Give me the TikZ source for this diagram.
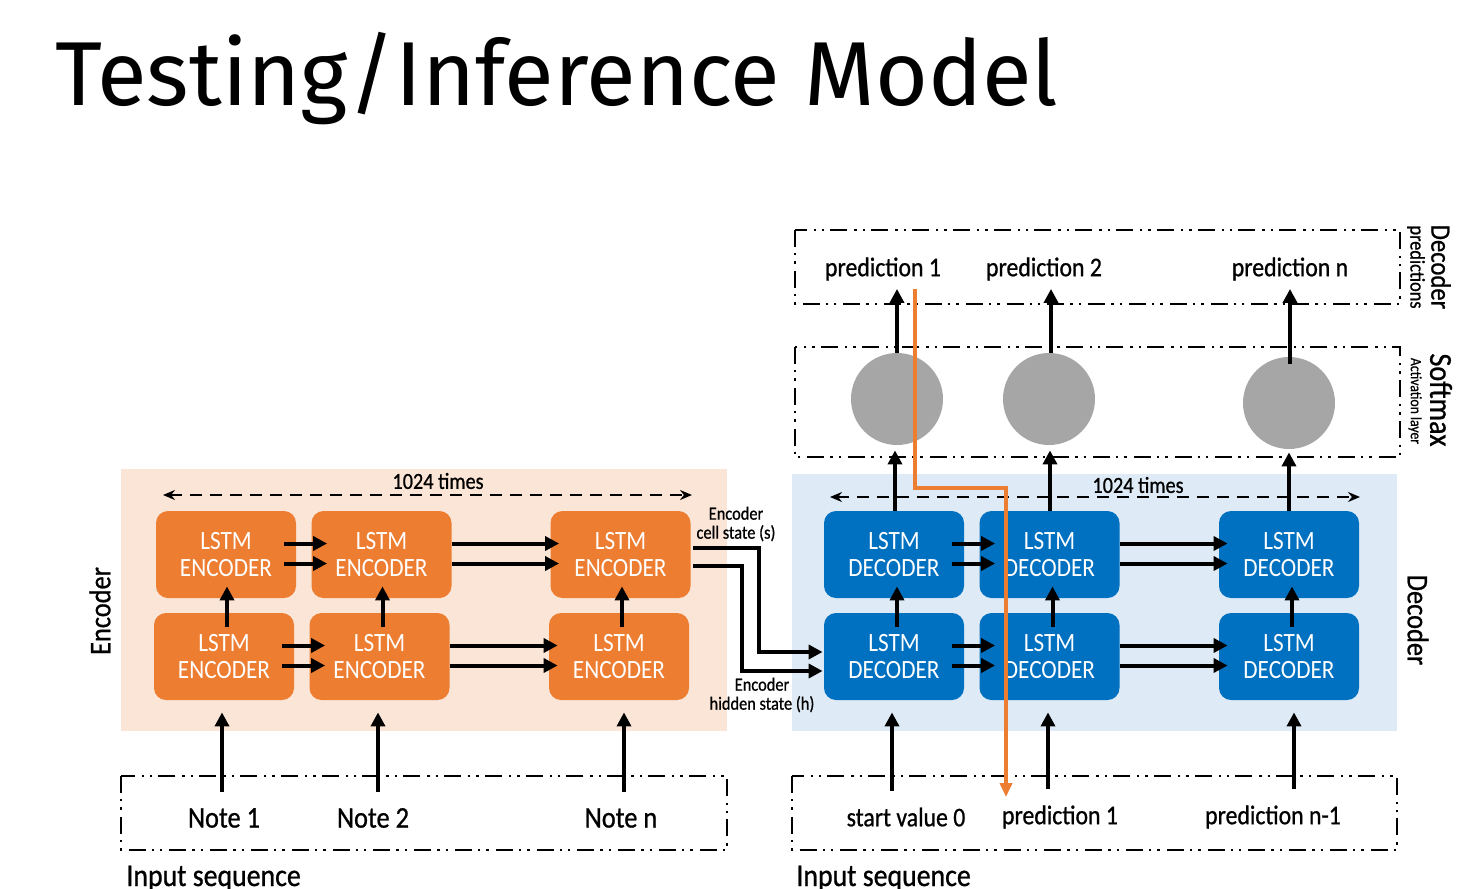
\documentclass[tikz,border=0pt]{standalone}
\usepackage{fontspec}
\setmainfont{Carlito}[FakeStretch=0.88]
\newfontfamily\lblfont{Carlito}[FakeStretch=0.88, FakeBold=0.8]
\newfontfamily\titlefont{Fira Sans}
\usetikzlibrary{arrows.meta,calc}

\definecolor{encfill}{HTML}{ED7D31}
\definecolor{encbg}{HTML}{FBE5D6}
\definecolor{decfill}{HTML}{0070C0}
\definecolor{decbg}{HTML}{DEEBF7}
\definecolor{smgray}{HTML}{A6A6A6}

\tikzset{
  lstmbox/.style={rounded corners=6pt, minimum width=70pt, minimum height=43.5pt,
    inner sep=0pt, text=white, align=center,
    font=\fontsize{13.2}{13.5}\selectfont},
  enc/.style={lstmbox, fill=encfill},
  dec/.style={lstmbox, fill=decfill},
  smnode/.style={circle, fill=smgray, minimum size=46pt, inner sep=0pt},
  arr/.style={line width=2pt, -{Triangle[length=7pt,width=7pt]}},
  oarr/.style={line width=2pt, draw=encfill, -{Triangle[length=7pt,width=6pt]}},
  span/.style={line width=0.8pt, dash pattern=on 6pt off 4pt,
    {Stealth[length=6pt,width=5pt]}-{Stealth[length=6pt,width=5pt]}},
  frame/.style={line width=1pt,
    dash pattern=on 8.5pt off 3pt on 1.2pt off 3pt on 1.2pt off 3.5pt},
  seqtext/.style={font=\lblfont\fontsize{15}{15}\selectfont, inner sep=4pt},
  captext/.style={font=\lblfont\fontsize{15.8}{15.8}\selectfont, inner sep=0pt, anchor=base west},
  predtext/.style={font=\lblfont\fontsize{13.5}{13.5}\selectfont, inner sep=4pt},
  spantext/.style={font=\lblfont\fontsize{11.5}{11.5}\selectfont, inner sep=0pt},
  statetext/.style={font=\lblfont\fontsize{9.3}{9.5}\selectfont, align=center, inner sep=0pt},
}

\begin{document}
\begin{tikzpicture}[x=0.5pt, y=-0.5pt]
\useasboundingbox (0,0) rectangle (1479,889);

% title
\node[anchor=base west, inner sep=0pt, font=\titlefont\fontsize{45.4}{46}\selectfont]
  (title) at (55,105) {Testing/Inference Model};

% shaded regions
\fill[encbg] (121,469) rectangle (727,731);
\fill[decbg] (792,474) rectangle (1397,731);

% dash-dot frames
\draw[frame] (795,230) rectangle (1400,304);
\draw[frame] (795,347) rectangle (1400,457);
\draw[frame] (121,776) rectangle (727,850);
\draw[frame] (792,776) rectangle (1397,850);

% encoder cells
\node[enc] (e11) at (226,554.5) {LSTM\\ENCODER};
\node[enc] (e12) at (381.5,554.5) {LSTM\\ENCODER};
\node[enc] (e13) at (620.5,554.5) {LSTM\\ENCODER};
\node[enc] (e21) at (224,656.5) {LSTM\\ENCODER};
\node[enc] (e22) at (379.5,656.5) {LSTM\\ENCODER};
\node[enc] (e23) at (619,656.5) {LSTM\\ENCODER};

% decoder cells
\node[dec] (d11) at (894,554.5) {LSTM\\DECODER};
\node[dec] (d12) at (1049.5,554.5) {LSTM\\DECODER};
\node[dec] (d13) at (1289,554.5) {LSTM\\DECODER};
\node[dec] (d21) at (894,656.5) {LSTM\\DECODER};
\node[dec] (d22) at (1049.5,656.5) {LSTM\\DECODER};
\node[dec] (d23) at (1289,656.5) {LSTM\\DECODER};

% softmax units
\node[smnode] (s1) at (897,399) {};
\node[smnode] (s2) at (1049,399) {};
\node[smnode] (s3) at (1289,403) {};

% predictions
\node[predtext] (p1) at (883,269) {prediction 1};
\node[predtext] (p2) at (1044,269) {prediction 2};
\node[predtext] (p3) at (1290,269) {prediction n};

% input sequences
\node[seqtext] (n1) at (224,818) {Note 1};
\node[seqtext] (n2) at (373,818) {Note 2};
\node[seqtext] (n3) at (621,818) {Note n};
\node[predtext] (sv) at (906,817) {start value 0};
\node[predtext] (q1) at (1060,817) {prediction 1};
\node[predtext] (qn) at (1273,817) {prediction n-1};
\node[captext] (in1) at (126,886) {Input sequence};
\node[captext] (in2) at (796,886) {Input sequence};

% side labels
\node[rotate=90, font=\lblfont\fontsize{15}{15}\selectfont] (encl) at (100,611) {Encoder};
\node[rotate=-90, font=\lblfont\fontsize{15}{15}\selectfont] (decl) at (1418,620) {Decoder};
\node[rotate=-90, font=\lblfont\fontsize{14}{14}\selectfont] (dpl) at (1441,267) {Decoder};
\node[rotate=-90, font=\lblfont\fontsize{10.4}{10.4}\selectfont] (dpl2) at (1416,267) {predictions};
\node[rotate=-90, font=\lblfont\fontsize{16}{16}\selectfont] (sml) at (1441,400) {Softmax};
\node[rotate=-90, font=\lblfont\fontsize{7.8}{7.8}\selectfont] (sml2) at (1415,401) {Activation layer};

% repetition spans
\node[spantext] (t1) at (438,481) {1024 times};
\node[spantext] (t2) at (1138,485) {1024 times};
\coordinate (ea) at (163,495);
\coordinate (eb) at (692,495);
\coordinate (da) at (830,497);
\coordinate (db) at (1360,497);
\draw[span] (ea) -- (eb);
\draw[span] (da) -- (db);

% horizontal state arrows (two per link)
\foreach \a/\b/\s/\t in {e11/e12/-12/16, e12/e13/0/9, e21/e22/-12/16, e22/e23/0/9,
                          d11/d12/-12/16, d12/d13/0/9, d21/d22/-12/16, d22/d23/0/9}{
  \draw[arr] ($(\a.east)+(\s,-11)$) -- ($(\b.west)+(\t,-11)$);
  \draw[arr] ($(\a.east)+(\s,9)$) -- ($(\b.west)+(\t,9)$);
}

% vertical arrows between layers
\foreach \a/\b in {e21/e11, e22/e12, e23/e13, d21/d11, d22/d12, d23/d13}{
  \draw[arr] ($(\a.north)+(3,14)$) -- ($(\a.north |- \b.south)+(3,-12)$);
}

% inputs into the first layer
\draw[arr] ($(n1.north -| e21.south)+(-2,-8)$) -- ($(e21.south)+(-2,12)$);
\draw[arr] ($(n2.north -| e22.south)+(-1.5,-8)$) -- ($(e22.south)+(-1.5,12)$);
\draw[arr] ($(n3.north -| e23.south)+(5,-8)$) -- ($(e23.south)+(5,12)$);
\draw[arr] ($(sv.north -| d21.south)+(-2,-8)$) -- ($(d21.south)+(-2,12)$);
\draw[arr] ($(q1.north -| d22.south)+(-1.5,-8)$) -- ($(d22.south)+(-1.5,12)$);
\draw[arr] ($(qn.north -| d23.south)+(5,-8)$) -- ($(d23.south)+(5,12)$);

% decoder outputs through softmax
\draw[arr] ($(d11.north)+(1,0)$) -- ($(d11.north |- s1.south)+(1,5)$);
\draw[arr] ($(d12.north)+(0.5,0)$) -- ($(d12.north |- s2.south)+(0.5,5)$);
\draw[arr] (d13.north) -- ($(d13.north |- s3.south)+(0,3)$);
\draw[arr] (s1.north) -- (s1.north |- p1.south);
\draw[arr] ($(s2.north)+(2,0)$) -- ($(s2.north |- p2.south)+(2,0)$);
\draw[arr] ($(s3.north)+(1,7)$) -- ($(s3.north |- p3.south)+(1,0)$);

% encoder final states handed to the decoder
\coordinate (k1) at (759,0);
\coordinate (k2) at (742,0);
\coordinate (cs) at ($(e13.east)+(2,-6.5)$);
\coordinate (ce) at ($(d21.west)+(-1,-4.5)$);
\coordinate (hs) at ($(e13.east)+(2,11.5)$);
\coordinate (he) at ($(d21.west)+(-1,14.5)$);
\draw[arr] (cs) -- (cs -| k1) -- (ce -| k1) -- (ce);
\draw[arr] (hs) -- (hs -| k2) -- (he -| k2) -- (he);
\node[statetext] (cst) at (736,524) {Encoder\\cell state (s)};
\node[statetext] (hst) at (762,695) {Encoder\\hidden state (h)};

% prediction fed back as next input
\coordinate (o1) at ($(p1.south)+(32,0)$);
\coordinate (o2) at ($(q1.north)+(-54,0)$);
\coordinate (k3) at (0,488);
\draw[oarr] (o1) -- (o1 |- k3) -- (o2 |- k3) -- (o2);

\end{tikzpicture}
\end{document}
